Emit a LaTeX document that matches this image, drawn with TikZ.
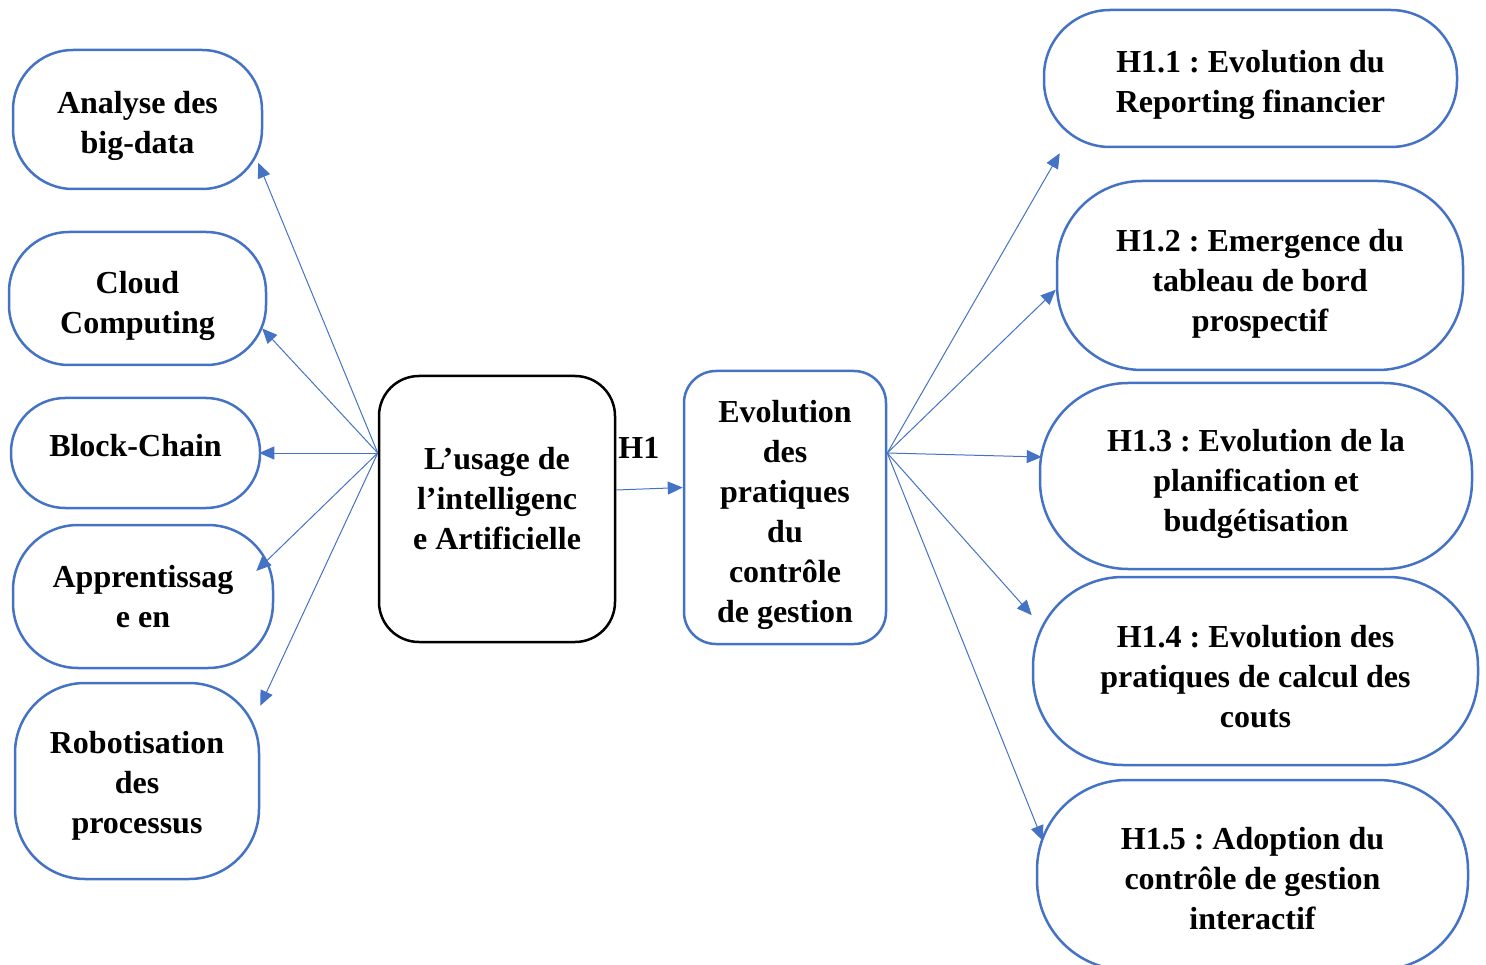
\documentclass[tikz,border=0pt]{standalone}
\usepackage{fontspec}
\setmainfont{Liberation Serif}
\usetikzlibrary{arrows.meta}
\definecolor{bleu}{HTML}{4472C4}
\frenchspacing

\begin{document}
\begin{tikzpicture}[x=1pt, y=-1pt,
  texte/.style={font=\bfseries\fontsize{32}{40}\selectfont, align=center, inner sep=0pt},
  boite/.style={draw=bleu, line width=2.5pt, inner sep=0pt},
  fleche/.style={draw=bleu, line width=1pt, -{Triangle[length=15pt,width=13pt]}}]
\useasboundingbox (0,0) rectangle (1486,965); % Pour la bounding box
\clip (0,0) rectangle (1486,965);

% colonne de gauche
\node[boite, minimum width=249pt, minimum height=139pt, rounded corners=60pt,
  label={[texte, yshift=-6pt]center:{Analyse des\\big-data}}] (bigdata) at (137.5,119.5) {};
\node[boite, minimum width=257pt, minimum height=133pt, rounded corners=60pt,
  label={[texte, yshift=-7pt]center:{Cloud\\Computing}}] (cloud) at (137.5,298.5) {};
\node[boite, minimum width=249pt, minimum height=110pt, rounded corners=54pt,
  label={[texte, yshift=7pt]center:{Block-Chain}}] (chain) at (135.5,453) {};
\node[boite, minimum width=260pt, minimum height=143pt, rounded corners=65pt,
  label={[texte]center:{Apprentissag\\e en}}] (learn) at (143,596.5) {};
\node[boite, minimum width=244pt, minimum height=196pt, rounded corners=70pt,
  label={[texte, yshift=-5pt]center:{Robotisation\\des\\processus}}] (robot) at (137,781) {};

% centre
\node[draw, line width=2.5pt, minimum width=236pt, minimum height=266pt, rounded corners=40pt,
  label={[texte, yshift=10pt]center:{L'usage de\\l'intelligenc\\e Artificielle}}] (ia) at (497,509) {};
\node[boite, minimum width=202pt, minimum height=273pt, rounded corners=32pt,
  label={[texte, yshift=-7pt]center:{Evolution\\des\\pratiques\\du\\contrôle\\de gestion}}] (evo) at (785,507.5) {};
\node[texte, anchor=west] (h1) at ([yshift=61pt, xshift=2pt]ia.east) {H1};

% colonne de droite
\node[boite, minimum width=413pt, minimum height=137pt, rounded corners=66pt,
  label={[texte, yshift=-6pt]center:{H1.1 : Evolution du\\Reporting financier}}] (h11) at (1250.5,78.5) {};
\node[boite, minimum width=406pt, minimum height=189pt, rounded corners=85pt,
  label={[texte, yshift=-8pt]center:{H1.2 : Emergence du\\tableau de bord\\prospectif}}] (h12) at (1260,275.5) {};
\node[boite, minimum width=432pt, minimum height=186pt, rounded corners=88pt,
  label={[texte, yshift=-8pt]center:{H1.3 : Evolution de la\\planification et\\budgétisation}}] (h13) at (1256,476) {};
\node[boite, minimum width=445pt, minimum height=188pt, rounded corners=90pt,
  label={[texte, yshift=-6pt]center:{H1.4 : Evolution des\\pratiques de calcul des\\couts}}] (h14) at (1255.5,671) {};
\node[boite, minimum width=431pt, minimum height=190pt, rounded corners=90pt,
  label={[texte, yshift=-4pt]center:{H1.5 : Adoption du\\contrôle de gestion\\interactif}}] (h15) at (1252.5,875) {};

% fleches
\coordinate (gauche) at (ia.west |- chain.east);
\coordinate (droite) at (evo.east |- chain.east);
\draw[fleche] (gauche) -- ([xshift=-5pt]bigdata.-19);
\draw[fleche] (gauche) -- ([xshift=-5pt]cloud.-13);
\draw[fleche] (gauche) -- ([xshift=-2pt]chain.east);
\draw[fleche] (gauche) -- ([xshift=-18pt]learn.11);
\draw[fleche] (gauche) -- ([yshift=-24pt]robot.north east);
\draw[fleche] ([yshift=19pt]ia.east) -- ([yshift=20pt]evo.west);
\draw[fleche] (droite) -- ([xshift=17pt, yshift=-5pt]h11.south west);
\draw[fleche] (droite) -- (h12.184);
\draw[fleche] (droite) -- ([xshift=3pt]h13.175);
\draw[fleche] (droite) -- (h14.166);
\draw[fleche] (droite) -- ([xshift=7pt]h15.171);
\end{tikzpicture}
\end{document}
